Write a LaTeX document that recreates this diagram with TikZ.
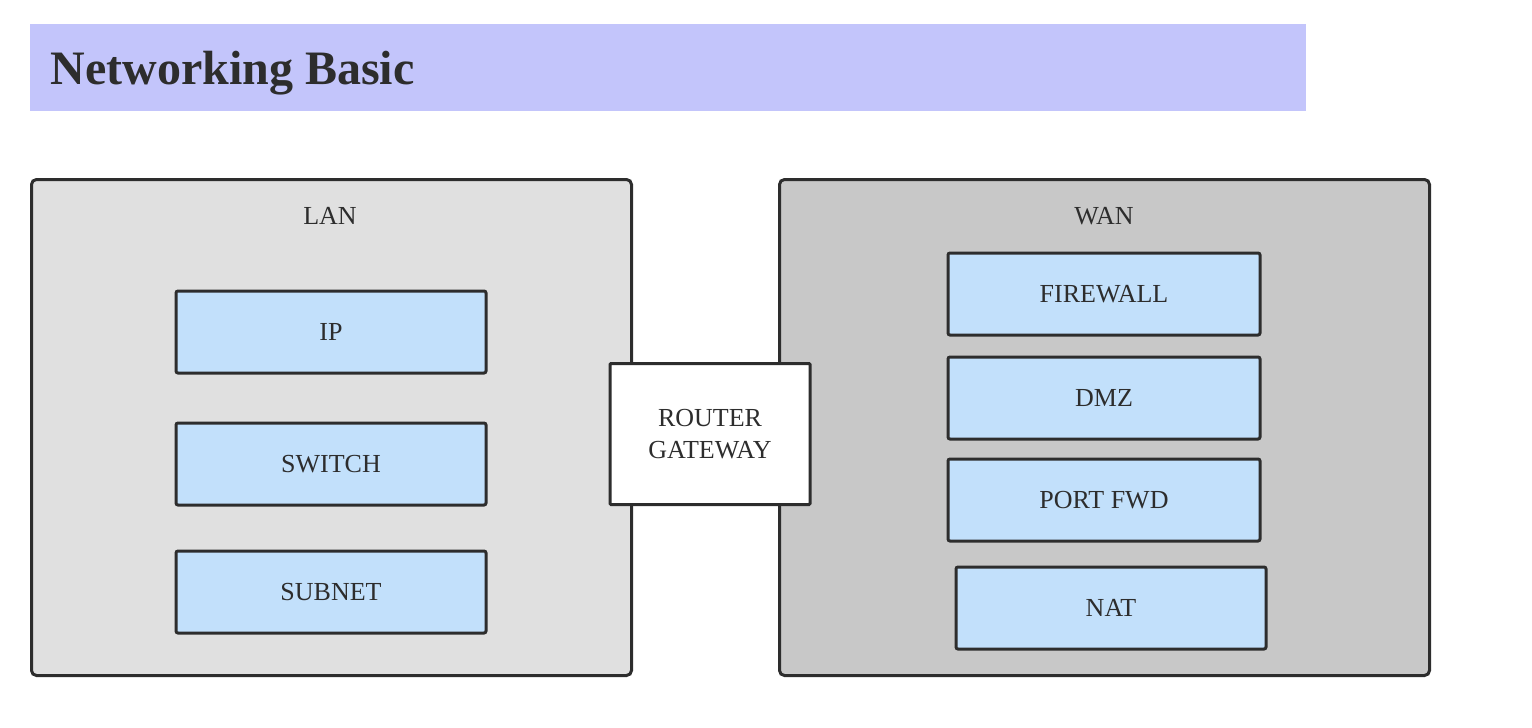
\documentclass[tikz,border=0pt]{standalone}
\usepackage{fontspec}
\setmainfont{Liberation Serif}
\usetikzlibrary{positioning}
\definecolor{titlefill}{HTML}{C3C5FB}
\definecolor{lanfill}{HTML}{E0E0E0}
\definecolor{wanfill}{HTML}{C8C8C8}
\definecolor{itemfill}{HTML}{C2E0FB}
\definecolor{ink}{HTML}{2D2D2D}

\begin{document}
\begin{tikzpicture}
[
x=0.5pt, y=-0.5pt,
group/.style={rounded corners=2.5pt, line width=1.5pt, draw=ink, anchor=north west},
item/.style={rounded corners=1pt, line width=1.5pt, draw=ink, fill=itemfill, minimum width=155pt, minimum height=41pt, text=ink, font=\fontsize{13}{16}\selectfont},
grouplabel/.style={text=ink, font=\fontsize{13}{16}\selectfont},
]
\useasboundingbox (0,0) rectangle (1532,728);

% title band
\node (title) [fill=titlefill, anchor=north west, minimum width=638pt, minimum height=43.5pt] at (30,24) {};
\node (titletext) [anchor=west, inner sep=0pt, text=ink, font=\fontsize{24}{28}\bfseries] at (50,73) {Networking Basic};

% groups
\node (lan) [group, fill=lanfill, minimum width=300pt, minimum height=248pt] at (30,178) {};
\node (wan) [group, fill=wanfill, minimum width=325pt, minimum height=248pt] at (778,178) {};
\node (lanlabel) [grouplabel] at (330,216) {LAN};
\node (wanlabel) [grouplabel] at (1104,216) {WAN};

% LAN items
\node (ip) [item] at (331,332) {IP};
\node (switch) [item] at (331,464) {SWITCH};
\node (subnet) [item] at (331,592) {SUBNET};

% WAN items
\node (firewall) [item, minimum width=156pt] at (1104,294) {FIREWALL};
\node (dmz) [item, minimum width=156pt] at (1104,398) {DMZ};
\node (portfwd) [item, minimum width=156pt] at (1104,500) {PORT FWD};
\node (nat) [item] at (1111,608) {NAT};

% router between the groups
\node (router) [item, fill=white, minimum width=100pt, minimum height=70.5pt, align=center, rounded corners=0.5pt] at (710,434) {ROUTER\\GATEWAY};
\end{tikzpicture}
\end{document}
